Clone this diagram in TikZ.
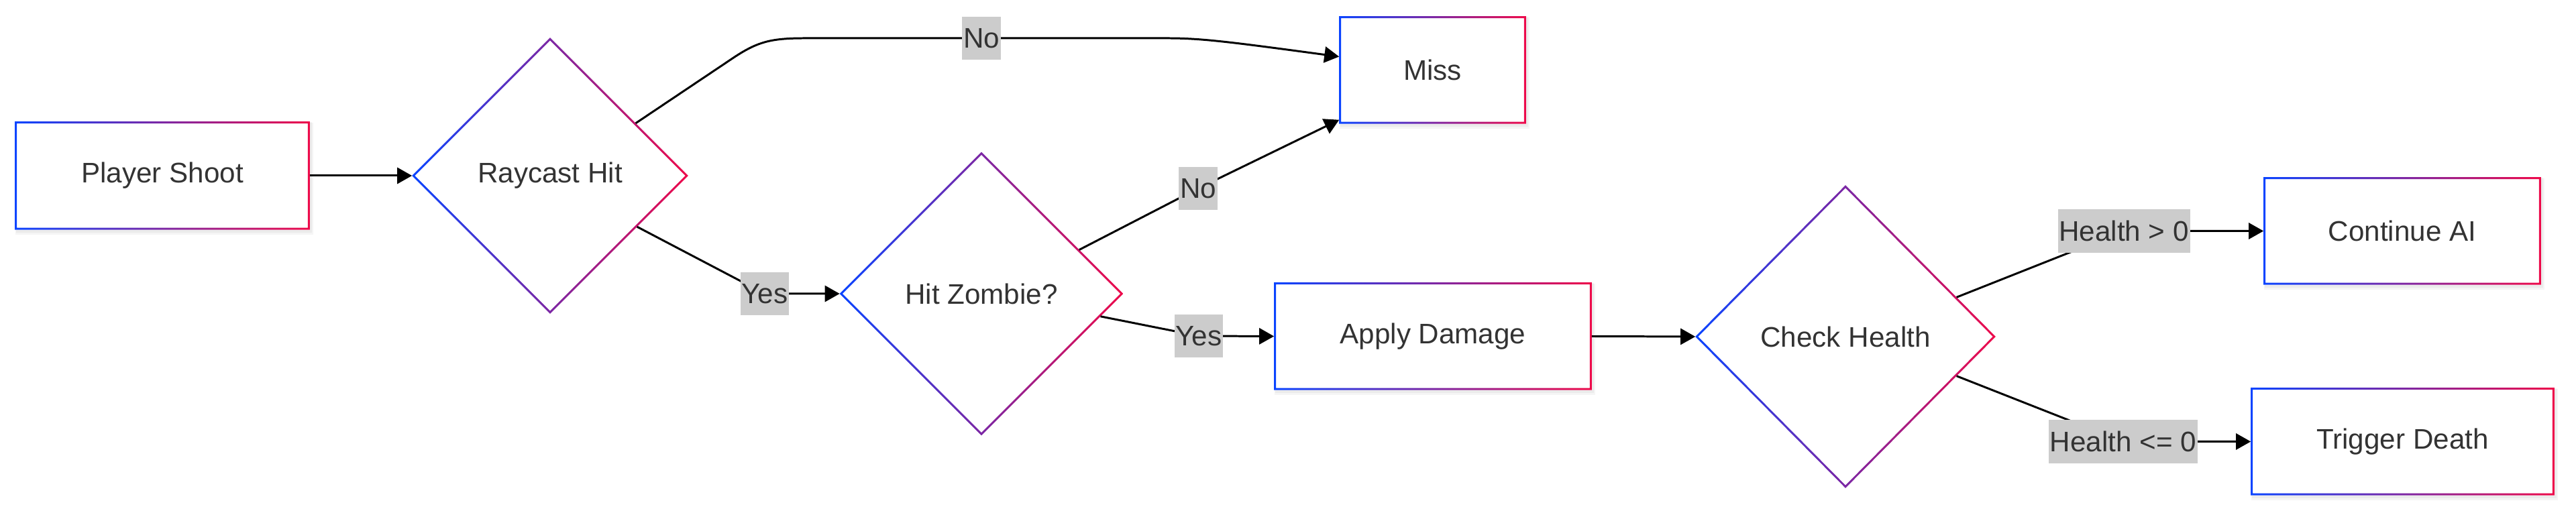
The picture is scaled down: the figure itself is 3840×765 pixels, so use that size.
\documentclass[tikz,border=0pt]{standalone}
\usepackage{fontspec}
\setmainfont{Liberation Sans}
\usetikzlibrary{shapes.geometric,arrows.meta,calc}
\definecolor{gblue}{HTML}{0A44FF}
\definecolor{gred}{HTML}{EE0A4A}
\definecolor{txt}{HTML}{333333}
\definecolor{lblbg}{HTML}{CCCCCC}
\newcommand\mygbox[1]{%
  \fill[black,opacity=0.04] ([shift={(1,7)}]#1.south west) rectangle ([shift={(5,2)}]#1.north east);
  \fill[black,opacity=0.04] ([shift={(2,4)}]#1.south west) rectangle ([shift={(3,1)}]#1.north east);
  \fill[white] (#1.south west) rectangle (#1.north east);
  \shade[left color=gblue,right color=gred,even odd rule]
    (#1.south west) rectangle (#1.north east)
    ([shift={(3,-3)}]#1.south west) rectangle ([shift={(-3,3)}]#1.north east);}
\newcommand\mygdia[1]{%
  \shade[left color=gblue,right color=gred,even odd rule]
    (#1.west) -- (#1.north) -- (#1.east) -- (#1.south) -- cycle
    ([shift={(4.2,0)}]#1.west) -- ([shift={(0,4.2)}]#1.north) -- ([shift={(-4.2,0)}]#1.east) -- ([shift={(0,-4.2)}]#1.south) -- cycle;}
\tikzset{
  boxnode/.style={rectangle,inner sep=0pt,minimum height=1.59cm,text=txt,font=\fontsize{12}{14}\selectfont},
  dianode/.style={diamond,inner sep=0pt,text=txt,font=\fontsize{12}{14}\selectfont},
  lbl/.style={fill=lblbg,text=txt,inner xsep=0.5pt,inner ysep=0pt,minimum height=0.64cm,font=\fontsize{12}{14}\selectfont},
  edge/.style={draw=black,line width=0.85pt,-{Triangle[length=0.22cm,width=0.24cm]}},
}
\begin{document}
\begin{tikzpicture}[x=0.01cm,y=-0.01cm]
\useasboundingbox (0,0) rectangle (3840,765);
% nodes (text placed later on top)
\path (242,262) node[boxnode,minimum width=4.38cm,minimum height=1.60cm] (ps) {}
      (820,262) node[dianode,minimum width=4.10cm,minimum height=4.10cm] (rh) {}
      (2135.5,104.5) node[boxnode,minimum width=2.77cm] (miss) {}
      (1463,438) node[dianode,minimum width=4.21cm,minimum height=4.21cm] (hz) {}
      (2136,501.5) node[boxnode,minimum width=4.72cm] (ad) {}
      (2751,502) node[dianode,minimum width=4.46cm,minimum height=4.50cm] (ch) {}
      (3581,344.5) node[boxnode,minimum width=4.12cm] (ca) {}
      (3581.5,658.5) node[boxnode,minimum width=4.51cm] (td) {};
% borders
\mygbox{ps}\mygbox{miss}\mygbox{ad}\mygbox{ca}\mygbox{td}
\mygdia{rh}\mygdia{hz}\mygdia{ch}
% texts
\node[text=txt,font=\fontsize{12}{14}\selectfont] (tps) at (ps) {Player Shoot};
\node[text=txt,font=\fontsize{12}{14}\selectfont] (trh) at (rh) {Raycast Hit};
\node[text=txt,font=\fontsize{12}{14}\selectfont] (tmiss) at (miss) {Miss};
\node[text=txt,font=\fontsize{12}{14}\selectfont] (thz) at (hz) {Hit Zombie?};
\node[text=txt,font=\fontsize{12}{14}\selectfont] (tad) at (ad) {Apply Damage};
\node[text=txt,font=\fontsize{12}{14}\selectfont] (tch) at (ch) {Check Health};
\node[text=txt,font=\fontsize{12}{14}\selectfont] (tca) at (ca) {Continue AI};
\node[text=txt,font=\fontsize{12}{14}\selectfont] (ttd) at (td) {Trigger Death};
% anchor points on diamond edges
\coordinate (rhA) at ($(rh.north)!0.62!(rh.east)$);
\coordinate (rhB) at ($(rh.east)!0.37!(rh.south)$);
\coordinate (hzA) at ($(hz.north)!0.69!(hz.east)$);
\coordinate (hzB) at ($(hz.east)!0.16!(hz.south)$);
\coordinate (chA) at ($(ch.east)!0.26!(ch.north)$);
\coordinate (chB) at ($(ch.east)!0.26!(ch.south)$);
\coordinate (missT) at ($(miss.south west)+(0,-6)$);
\coordinate (missU) at ($(miss.west)+(0,-20)$);
% edges
\draw[edge] (ps.east) -- (rh.west);
\draw[edge] (rhA) -- (1095,85) .. controls (1130,62) and (1150,57) .. (1200,57)
  -- (1463,57) node[lbl] (no1) {No} -- (1740,57) .. controls (1790,57) and (1830,62) .. (missU);
\draw[edge] (hzA) -- (1786,281) node[lbl] (no2) {No} -- (missT);
\draw[edge] (rhB) -- (1140,438) node[lbl] (yes1) {Yes} -- (hz.west);
\draw[edge] (hzB) -- (1787,501) node[lbl] (yes2) {Yes} -- (ad.west);
\draw[edge] (ad.east) -- (ch.west);
\draw[edge] (chA) -- (3166,344.5) node[lbl] (hg) {Health > 0} -- (ca.west);
\draw[edge] (chB) -- (3165,658.5) node[lbl] (hl) {Health <= 0} -- (td.west);
\end{tikzpicture}
\end{document}
